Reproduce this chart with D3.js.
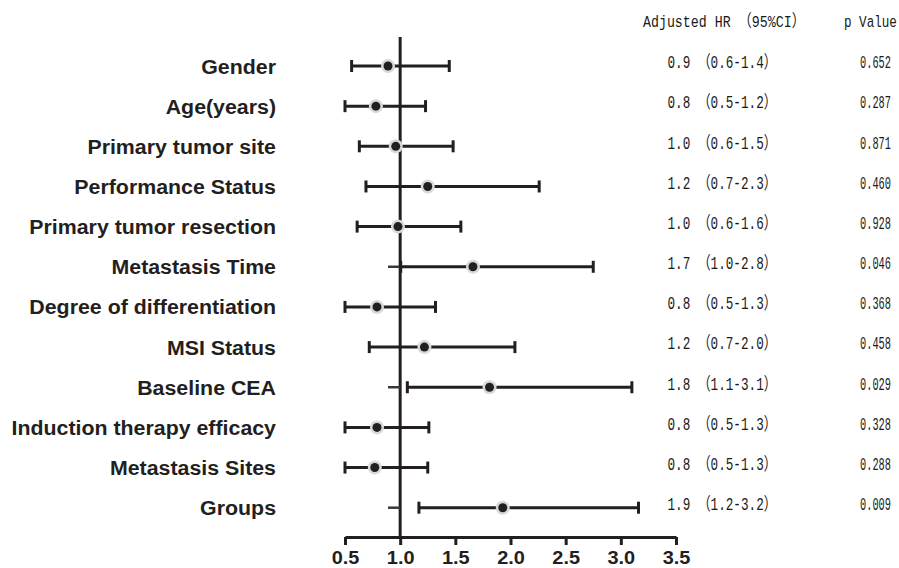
<!DOCTYPE html>
<html>
<head>
<meta charset="utf-8">
<script src="https://cdn.jsdelivr.net/npm/d3@7"></script>
<style>
  html, body { margin: 0; padding: 0; background: #fff; overflow: hidden; }
  svg { display: block; }
  .row-label { font-family: "Liberation Sans", Arial, sans-serif; font-weight: bold; fill: #231f20; }
  .tick-label { font-family: "Liberation Sans", Arial, sans-serif; font-weight: bold; fill: #231f20; }
  .num { font-family: "Liberation Mono", "Noto Sans CJK SC", monospace; fill: #1a1a1a; }
</style>
</head>
<body>
<div id="chart"></div>
<script>
/*
 * Forest plot of adjusted hazard ratios
 */
var labels = ['Gender', 'Age(years)', 'Primary tumor site', 'Performance Status',
  'Primary tumor resection', 'Metastasis Time', 'Degree of differentiation', 'MSI Status',
  'Baseline CEA', 'Induction therapy efficacy', 'Metastasis Sites', 'Groups'];
var hr = [0.89, 0.78, 0.96, 1.25, 0.98, 1.66, 0.79, 1.22, 1.81, 0.79, 0.77, 1.93];
var lower = [0.56, 0.50, 0.63, 0.69, 0.61, 1.005, 0.50, 0.72, 1.065, 0.50, 0.50, 1.17];
var upper = [1.445, 1.23, 1.48, 2.26, 1.55, 2.75, 1.32, 2.04, 3.10, 1.26, 1.25, 3.16];
// rows whose lower bound is above 1 show a small leftover stub at the reference line
var stubFrom = [null, null, null, null, null, 0.89, null, null, 0.89, null, null, 0.89];
var hrText = ['0.9 （0.6-1.4）', '0.8 （0.5-1.2）', '1.0 （0.6-1.5）', '1.2 （0.7-2.3）',
  '1.0 （0.6-1.6）', '1.7 （1.0-2.8）', '0.8 （0.5-1.3）', '1.2 （0.7-2.0）',
  '1.8 （1.1-3.1）', '0.8 （0.5-1.3）', '0.8 （0.5-1.3）', '1.9 （1.2-3.2）'];
var pText = ['0.652', '0.287', '0.871', '0.460', '0.928', '0.046',
  '0.368', '0.458', '0.029', '0.328', '0.288', '0.009'];
var xTicks = [0.5, 1.0, 1.5, 2.0, 2.5, 3.0, 3.5];
var refValue = 1.0;

(function() {
  var width = 899;
  var height = 568;
  var ink = '#231f20';
  var halo = '#d9d9d9';

  var svg = d3.select('#chart').append('svg')
    .attr('width', width)
    .attr('height', height);

  var x = d3.scaleLinear().domain([0.5, 3.5]).range([345, 676]);
  var y = d3.scalePoint().domain(labels).range([66, 507.7]);
  var axisY = 537;

  var rows = labels.map(function(label, i) {
    return { label: label, hr: hr[i], lo: lower[i], hi: upper[i], stub: stubFrom[i], hrText: hrText[i], p: pText[i] };
  });

  /*
   * Squeezes or stretches a text horizontally so that it spans the given width
   */
  function fitText(sel, x0, y0, targetWidth) {
    sel.each(function() {
      var node = d3.select(this);
      var w = this.getComputedTextLength();
      node.attr('transform', 'translate(' + x0 + ',' + y0 + ') scale(' + (targetWidth / w) + ',1)');
    });
  }

  /*
   * Reference line at HR = 1
   */
  svg.append('line')
    .attr('x1', x(refValue)).attr('x2', x(refValue))
    .attr('y1', 37).attr('y2', axisY)
    .attr('stroke', ink)
    .attr('stroke-width', 3);

  /*
   * Axis
   */
  var axis = d3.axisBottom(x)
    .tickValues(xTicks)
    .tickSize(8)
    .tickSizeOuter(0)
    .tickFormat(d3.format('.1f'));

  var axisG = svg.append('g')
    .attr('transform', 'translate(0,' + axisY + ')')
    .call(axis);
  axisG.select('.domain').attr('stroke', ink).attr('stroke-width', 3);
  axisG.selectAll('.tick line').attr('stroke', ink).attr('stroke-width', 3);
  axisG.selectAll('.tick text').remove();
  axisG.selectAll('.tick').append('text')
    .attr('class', 'tick-label')
    .attr('text-anchor', 'middle')
    .attr('transform', 'translate(0,27) scale(1.14,1)')
    .style('font-size', '17.5px')
    .text(d3.format('.1f'));

  /*
   * Row labels
   */
  svg.selectAll('.row-label')
    .data(rows)
    .enter().append('text')
    .attr('class', 'row-label')
    .attr('text-anchor', 'end')
    .attr('transform', function(d) {
      return 'translate(276,' + (y(d.label) + 7.5) + ') scale(1.095,1)';
    })
    .style('font-size', '19.5px')
    .text(function(d) { return d.label; });

  /*
   * Error bars, caps and points
   */
  var bars = svg.selectAll('.bar')
    .data(rows)
    .enter().append('g')
    .attr('class', 'bar');

  bars.filter(function(d) { return d.stub !== null; })
    .append('line')
    .attr('x1', function(d) { return x(d.stub); })
    .attr('x2', x(refValue))
    .attr('y1', function(d) { return y(d.label); })
    .attr('y2', function(d) { return y(d.label); })
    .attr('stroke', '#3a3738')
    .attr('stroke-width', 2.5);

  bars.append('line')
    .attr('x1', function(d) { return x(d.lo); })
    .attr('x2', function(d) { return x(d.hi); })
    .attr('y1', function(d) { return y(d.label); })
    .attr('y2', function(d) { return y(d.label); })
    .attr('stroke', ink)
    .attr('stroke-width', 3);

  ['lo', 'hi'].forEach(function(key) {
    bars.append('line')
      .attr('x1', function(d) { return x(d[key]); })
      .attr('x2', function(d) { return x(d[key]); })
      .attr('y1', function(d) { return y(d.label) - 6; })
      .attr('y2', function(d) { return y(d.label) + 6; })
      .attr('stroke', ink)
      .attr('stroke-width', 3);
  });

  bars.append('circle')
    .attr('cx', function(d) { return x(d.hr); })
    .attr('cy', function(d) { return y(d.label); })
    .attr('r', 7)
    .attr('fill', halo);

  bars.append('circle')
    .attr('cx', function(d) { return x(d.hr); })
    .attr('cy', function(d) { return y(d.label); })
    .attr('r', 4.5)
    .attr('fill', ink);

  /*
   * Text columns on the right
   */
  svg.append('text')
    .attr('class', 'num')
    .style('font-size', '17px')
    .text('Adjusted HR （95%CI）')
    .call(fitText, 643, 26.5, 162);

  svg.append('text')
    .attr('class', 'num')
    .style('font-size', '17px')
    .text('p Value')
    .call(fitText, 844, 26.5, 53);

  svg.selectAll('.hr-text')
    .data(rows)
    .enter().append('text')
    .attr('class', 'num hr-text')
    .style('font-size', '17.5px')
    .text(function(d) { return d.hrText; })
    .each(function(d) {
      d3.select(this).call(fitText, 667.5, y(d.label) + 2.3, 109);
    });

  svg.selectAll('.p-text')
    .data(rows)
    .enter().append('text')
    .attr('class', 'num p-text')
    .style('font-size', '17.5px')
    .text(function(d) { return d.p; })
    .each(function(d) {
      d3.select(this).call(fitText, 860, y(d.label) + 2.3, 31);
    });

}).call(this);
</script>
</body>
</html>
